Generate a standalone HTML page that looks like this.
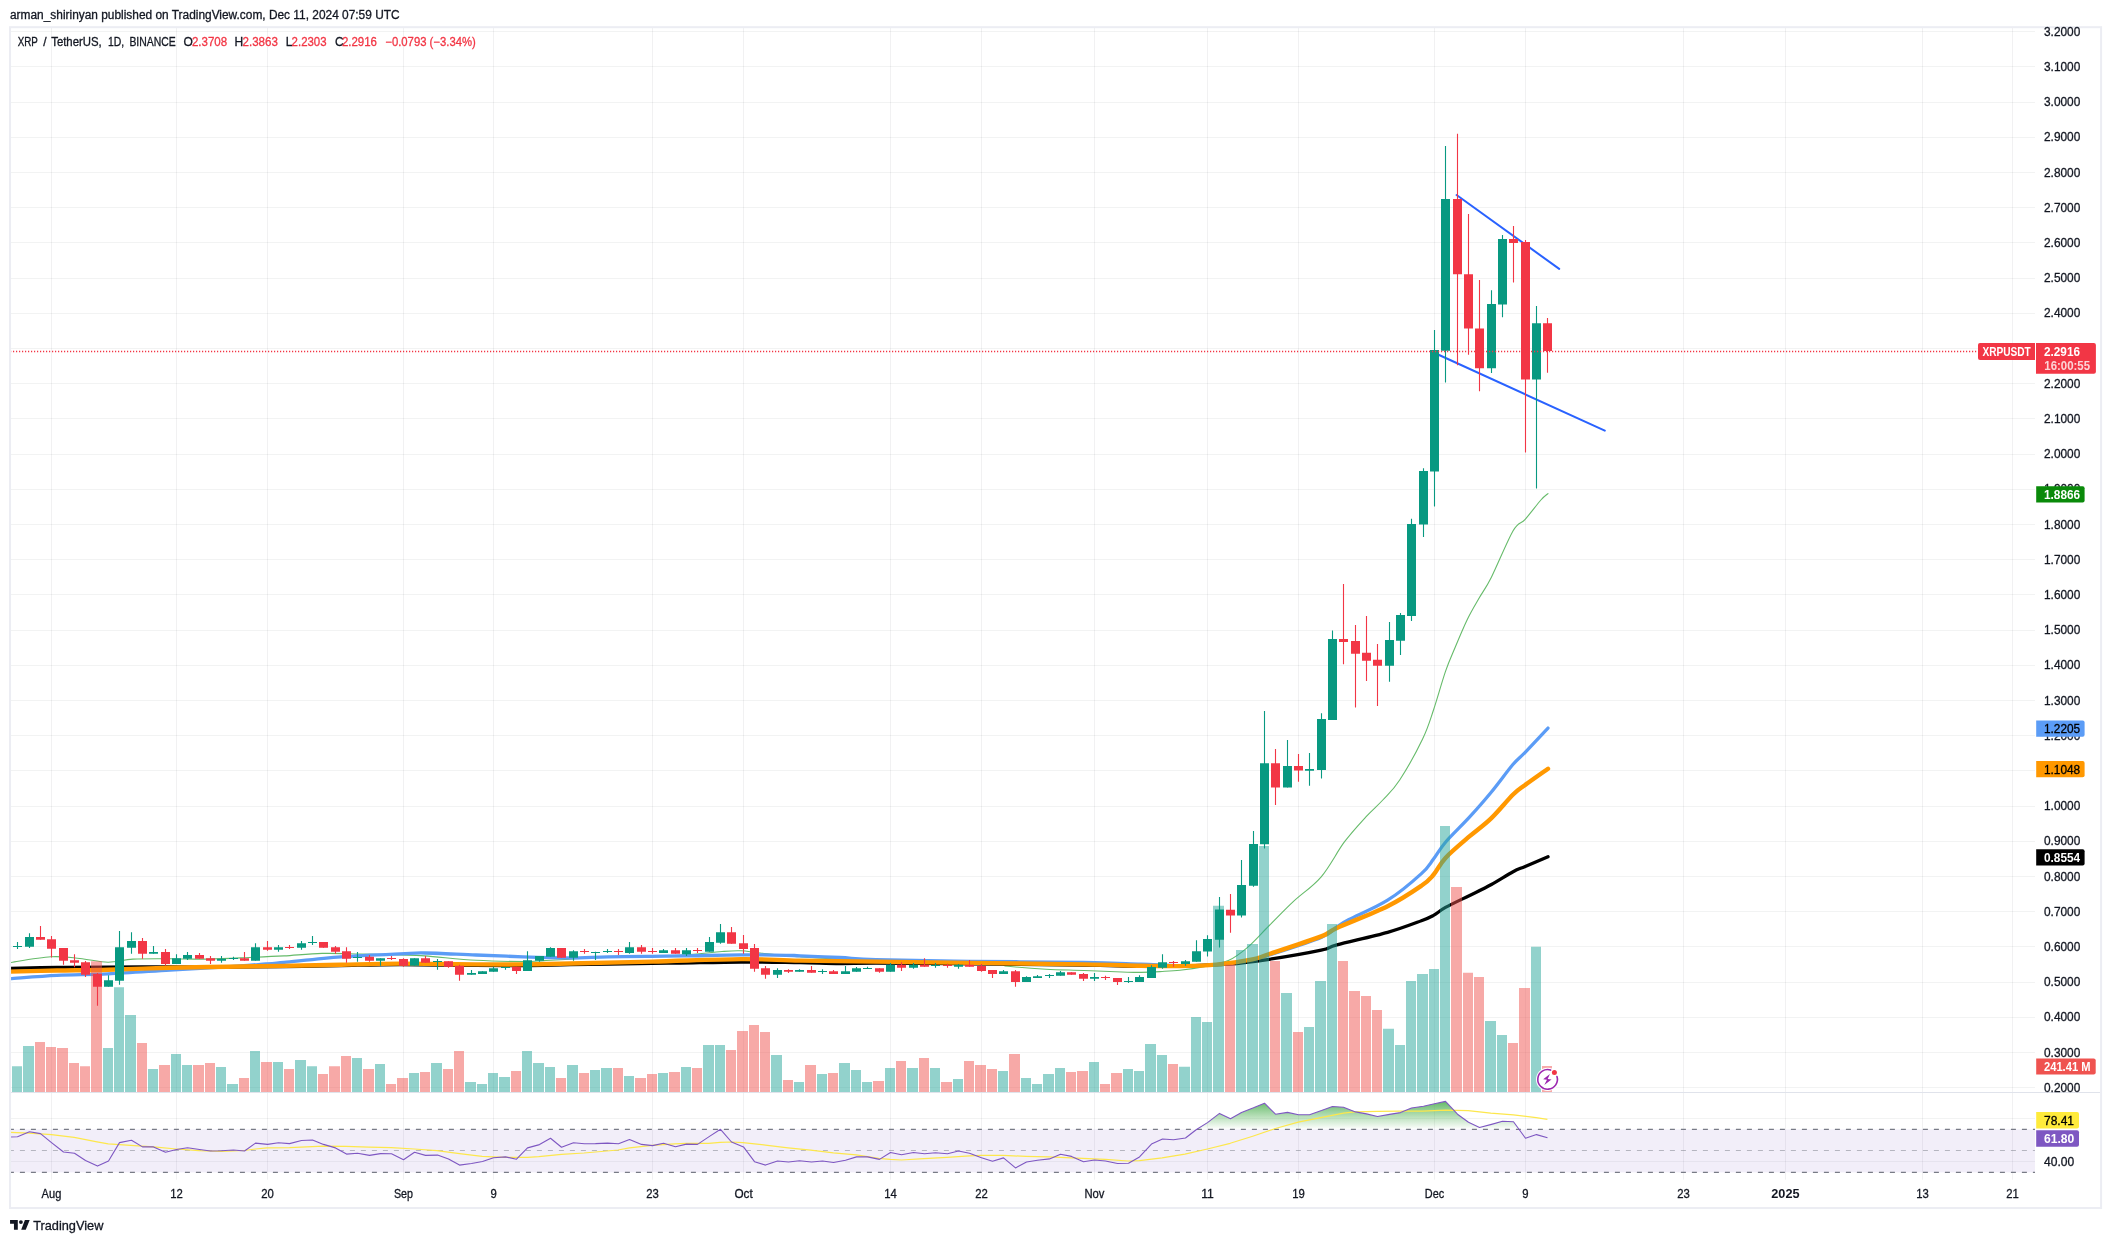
<!DOCTYPE html>
<html><head><meta charset="utf-8"><title>XRP / TetherUS chart</title>
<style>html,body{margin:0;padding:0;background:#fff;width:2111px;height:1243px;overflow:hidden}svg{display:block}text{white-space:pre}</style></head>
<body>
<svg width="2111" height="1243" viewBox="0 0 2111 1243" style="position:absolute;left:0;top:0">
<rect x="0" y="0" width="2111" height="1243" fill="#fff"/>
<path d="M10.0 1087.5H2035.0M10.0 1052.5H2035.0M10.0 1017.5H2035.0M10.0 982.5H2035.0M10.0 946.5H2035.0M10.0 911.5H2035.0M10.0 876.5H2035.0M10.0 841.5H2035.0M10.0 806.5H2035.0M10.0 770.5H2035.0M10.0 735.5H2035.0M10.0 700.5H2035.0M10.0 665.5H2035.0M10.0 630.5H2035.0M10.0 594.5H2035.0M10.0 559.5H2035.0M10.0 524.5H2035.0M10.0 489.5H2035.0M10.0 454.5H2035.0M10.0 418.5H2035.0M10.0 383.5H2035.0M10.0 348.5H2035.0M10.0 313.5H2035.0M10.0 278.5H2035.0M10.0 242.5H2035.0M10.0 207.5H2035.0M10.0 172.5H2035.0M10.0 137.5H2035.0M10.0 102.5H2035.0M10.0 66.5H2035.0M10.0 31.5H2035.0M10.0 1118.5H2035.0M10.0 1161.5H2035.0" stroke="#2A2E39" stroke-opacity="0.06" stroke-width="1" fill="none"/>
<path d="M51.5 27.5V1179.7M176.5 27.5V1179.7M267.5 27.5V1179.7M403.5 27.5V1179.7M493.5 27.5V1179.7M652.5 27.5V1179.7M743.5 27.5V1179.7M890.5 27.5V1179.7M981.5 27.5V1179.7M1094.5 27.5V1179.7M1207.5 27.5V1179.7M1298.5 27.5V1179.7M1434.5 27.5V1179.7M1525.5 27.5V1179.7M1683.5 27.5V1179.7M1785.5 27.5V1179.7M1922.5 27.5V1179.7M2012.5 27.5V1179.7" stroke="#2A2E39" stroke-opacity="0.065" stroke-width="1" fill="none"/>
<rect x="10.0" y="1129.4" width="2025.0" height="43.0" fill="#7E57C2" fill-opacity="0.1"/>
<g fill="none" stroke-linejoin="round" stroke-linecap="round" clip-path="url(#plotclip)">
<path d="M10.0 962.5C16.8 961.5 39.3 957.5 51.0 956.8C62.7 956.1 70.5 957.6 80.0 958.5C89.5 959.4 99.2 962.1 108.0 962.2C116.8 962.3 122.7 959.7 133.0 959.1C143.3 958.5 157.5 958.7 170.0 958.7C182.5 958.7 193.8 959.4 208.0 959.1C222.2 958.9 242.3 957.7 255.0 957.2C267.7 956.7 272.8 956.5 284.0 955.9C295.2 955.3 309.3 953.7 322.0 953.4C334.7 953.1 347.0 953.7 360.0 954.0C373.0 954.3 389.2 954.7 400.0 955.0C410.8 955.3 412.3 955.0 425.0 955.9C437.7 956.8 459.7 959.3 476.0 960.3C492.3 961.2 511.7 961.5 523.0 961.6C534.3 961.7 536.2 961.0 544.0 960.6C551.8 960.2 559.3 959.9 570.0 959.3C580.7 958.7 594.3 957.4 608.0 956.8C621.7 956.2 639.3 956.2 652.0 955.9C664.7 955.6 672.3 955.7 684.0 955.0C695.7 954.3 712.5 952.2 722.0 951.5C731.5 950.8 734.7 950.5 741.0 950.8C747.3 951.0 750.2 952.0 760.0 953.0C769.8 954.0 780.7 955.5 800.0 956.8C819.3 958.1 844.3 959.8 876.0 961.0C907.7 962.2 968.0 963.1 990.0 964.0C1012.0 964.9 998.7 965.4 1008.0 966.3C1017.3 967.2 1033.3 968.5 1046.0 969.2C1058.7 969.9 1071.3 970.0 1084.0 970.5C1096.7 971.0 1112.5 971.7 1122.0 972.0C1131.5 972.3 1134.7 972.5 1141.0 972.4C1147.3 972.3 1153.5 972.0 1160.0 971.6C1166.5 971.2 1172.7 971.0 1180.0 970.2C1187.3 969.4 1196.0 968.2 1204.1 966.6C1212.1 965.0 1221.0 963.7 1228.3 960.5C1235.5 957.3 1240.8 953.1 1247.6 947.3C1254.4 941.5 1261.6 933.1 1269.3 925.5C1277.0 917.9 1284.8 909.5 1293.5 901.4C1302.2 893.3 1312.8 886.7 1321.2 876.8C1329.7 866.9 1336.8 852.2 1344.2 842.2C1351.7 832.2 1359.5 823.9 1365.9 816.9C1372.3 809.9 1377.2 806.1 1382.8 800.0C1388.4 793.9 1393.1 790.2 1399.7 780.0C1406.3 769.8 1417.0 750.7 1422.6 739.0C1428.2 727.3 1429.7 721.3 1433.5 710.0C1437.3 698.7 1441.9 681.9 1445.5 671.4C1449.1 660.9 1451.6 655.9 1455.2 647.3C1458.8 638.6 1463.3 627.8 1467.3 619.5C1471.3 611.2 1475.3 604.8 1479.3 597.8C1483.3 590.8 1485.8 588.4 1491.4 577.2C1497.0 566.0 1507.5 540.4 1513.1 530.7C1518.7 521.1 1520.6 524.4 1525.2 519.3C1529.8 514.2 1537.1 504.3 1540.9 500.0C1544.7 495.7 1546.8 494.7 1548.0 493.6" stroke="#66BB6A" stroke-width="1.1"/>
<path d="M10.0 978.6C17.8 978.1 40.7 976.2 57.0 975.4C73.3 974.6 89.2 974.8 108.0 973.9C126.8 973.0 150.2 971.3 170.0 970.1C189.8 968.9 211.0 967.8 227.0 966.8C243.0 965.8 256.5 964.7 266.0 964.0C275.5 963.3 271.5 963.6 284.0 962.4C296.5 961.2 321.7 958.2 341.0 956.8C360.3 955.4 386.0 954.4 400.0 953.8C414.0 953.2 412.3 952.8 425.0 953.0C437.7 953.2 459.7 954.4 476.0 955.0C492.3 955.6 507.3 956.3 523.0 956.8C538.7 957.3 555.8 957.8 570.0 957.8C584.2 957.8 594.3 957.0 608.0 956.8C621.7 956.5 639.3 956.4 652.0 956.3C664.7 956.1 669.2 956.1 684.0 955.9C698.8 955.7 724.0 955.0 741.0 954.9C758.0 954.8 776.2 955.1 786.0 955.3C795.8 955.4 791.0 955.4 800.0 955.8C809.0 956.2 827.3 956.9 840.0 957.5C852.7 958.1 854.3 959.0 876.0 959.6C897.7 960.2 935.3 960.8 970.0 961.3C1004.7 961.8 1055.5 961.9 1084.0 962.4C1112.5 962.9 1125.0 963.7 1141.0 964.2C1157.0 964.7 1167.5 965.5 1180.0 965.6C1192.5 965.7 1204.1 965.6 1216.2 964.6C1228.3 963.6 1243.6 961.4 1252.4 959.8C1261.2 958.2 1257.8 958.7 1269.3 955.0C1280.8 951.3 1309.9 942.1 1321.2 937.4C1332.5 932.7 1332.3 930.0 1336.9 927.0C1341.5 924.0 1340.5 924.0 1349.0 919.5C1357.5 915.0 1375.5 907.9 1387.6 900.2C1399.7 892.6 1413.8 880.5 1421.4 873.6C1429.1 866.8 1429.5 864.3 1433.5 859.1C1437.5 853.9 1439.5 849.2 1445.5 842.2C1451.5 835.2 1462.0 825.3 1469.7 816.9C1477.4 808.5 1484.2 800.8 1491.4 792.0C1498.6 783.2 1507.5 770.9 1513.1 764.3C1518.7 757.7 1519.4 758.3 1525.2 752.3C1531.0 746.3 1544.2 732.1 1548.0 728.1" stroke="#5B9CF6" stroke-width="3.3"/>
<path d="M10.0 968.4C17.8 968.2 40.7 967.6 57.0 967.4C73.3 967.2 89.2 967.3 108.0 967.2C126.8 967.1 150.2 966.9 170.0 966.9C189.8 966.9 208.0 967.2 227.0 967.2C246.0 967.2 265.0 967.0 284.0 966.7C303.0 966.4 321.7 966.0 341.0 965.6C360.3 965.2 377.5 964.5 400.0 964.5C422.5 964.5 455.5 965.2 476.0 965.4C496.5 965.6 507.3 965.6 523.0 965.5C538.7 965.4 548.5 965.1 570.0 964.7C591.5 964.4 633.7 963.7 652.0 963.4C670.3 963.1 665.2 963.2 680.0 963.0C694.8 962.8 721.0 962.1 741.0 962.0C761.0 961.9 783.5 962.4 800.0 962.6C816.5 962.9 827.3 963.4 840.0 963.5C852.7 963.6 854.3 963.2 876.0 963.2C897.7 963.2 935.3 963.5 970.0 963.8C1004.7 964.1 1055.5 964.8 1084.0 965.2C1112.5 965.6 1125.0 966.3 1141.0 966.4C1157.0 966.5 1165.5 966.4 1180.0 966.0C1194.5 965.6 1213.4 965.3 1228.3 964.2C1243.2 963.1 1253.8 961.6 1269.3 959.3C1284.8 957.0 1309.9 952.6 1321.2 950.2C1332.5 947.8 1325.8 947.8 1336.9 944.8C1348.0 941.8 1373.5 936.3 1387.6 932.3C1401.7 928.3 1413.8 923.5 1421.4 920.7C1429.1 917.9 1429.5 917.6 1433.5 915.4C1437.5 913.2 1439.5 910.7 1445.5 907.4C1451.5 904.1 1462.0 899.2 1469.7 895.4C1477.4 891.6 1484.2 888.5 1491.4 884.5C1498.6 880.5 1507.5 874.7 1513.1 871.7C1518.7 868.7 1519.4 868.9 1525.2 866.4C1531.0 863.9 1544.2 858.3 1548.0 856.7" stroke="#000" stroke-width="3.3"/>
<path d="M10.0 971.6C17.8 971.4 40.7 970.8 57.0 970.5C73.3 970.2 89.2 970.2 108.0 969.7C126.8 969.2 150.2 968.3 170.0 967.8C189.8 967.3 208.0 967.0 227.0 966.7C246.0 966.4 265.0 966.2 284.0 965.9C303.0 965.6 321.7 965.1 341.0 964.7C360.3 964.3 377.5 963.7 400.0 963.6C422.5 963.5 455.5 964.3 476.0 964.4C496.5 964.5 507.3 964.5 523.0 964.4C538.7 964.2 548.5 964.0 570.0 963.5C591.5 963.0 623.5 962.3 652.0 961.6C680.5 960.9 716.3 959.3 741.0 959.1C765.7 958.9 777.5 960.2 800.0 960.6C822.5 961.0 847.7 961.2 876.0 961.6C904.3 962.0 935.3 962.4 970.0 962.9C1004.7 963.4 1055.5 963.9 1084.0 964.4C1112.5 964.9 1125.0 965.5 1141.0 965.8C1157.0 966.1 1167.5 966.3 1180.0 966.1C1192.5 965.9 1204.1 965.7 1216.2 964.6C1228.3 963.5 1243.6 961.1 1252.4 959.3C1261.2 957.5 1257.8 957.8 1269.3 954.0C1280.8 950.2 1309.9 940.8 1321.2 936.4C1332.5 932.0 1325.8 932.9 1336.9 927.9C1348.0 922.9 1373.5 913.2 1387.6 906.2C1401.7 899.2 1413.8 890.9 1421.4 885.7C1429.1 880.5 1429.5 879.4 1433.5 874.8C1437.5 870.2 1439.5 864.3 1445.5 857.9C1451.5 851.5 1462.0 842.8 1469.7 836.2C1477.4 829.6 1484.2 825.1 1491.4 818.1C1498.6 811.1 1507.5 800.0 1513.1 794.5C1518.7 789.0 1519.4 789.2 1525.2 784.9C1531.0 780.6 1544.2 771.4 1548.0 768.7" stroke="#FF9800" stroke-width="4.4"/>
</g>
<path d="M12 1092.3V1066.2H22V1092.3ZM23 1092.3V1046.1H34V1092.3ZM103 1092.3V1048.0H113V1092.3ZM114 1092.3V987.2H124V1092.3ZM125 1092.3V1015.0H136V1092.3ZM148 1092.3V1069.0H158V1092.3ZM171 1092.3V1054.1H181V1092.3ZM182 1092.3V1065.0H192V1092.3ZM216 1092.3V1067.1H226V1092.3ZM227 1092.3V1084.0H238V1092.3ZM250 1092.3V1051.0H260V1092.3ZM273 1092.3V1062.0H283V1092.3ZM295 1092.3V1060.1H306V1092.3ZM307 1092.3V1066.2H317V1092.3ZM352 1092.3V1058.0H362V1092.3ZM375 1092.3V1064.1H385V1092.3ZM409 1092.3V1073.0H419V1092.3ZM431 1092.3V1063.1H442V1092.3ZM465 1092.3V1082.1H476V1092.3ZM477 1092.3V1084.0H487V1092.3ZM488 1092.3V1073.0H498V1092.3ZM499 1092.3V1077.0H510V1092.3ZM522 1092.3V1051.0H532V1092.3ZM533 1092.3V1063.1H544V1092.3ZM545 1092.3V1067.1H555V1092.3ZM567 1092.3V1065.0H578V1092.3ZM590 1092.3V1070.0H600V1092.3ZM601 1092.3V1068.1H612V1092.3ZM624 1092.3V1076.0H634V1092.3ZM658 1092.3V1073.0H668V1092.3ZM681 1092.3V1067.1H691V1092.3ZM703 1092.3V1045.1H714V1092.3ZM715 1092.3V1045.1H725V1092.3ZM771 1092.3V1055.0H782V1092.3ZM794 1092.3V1082.1H804V1092.3ZM817 1092.3V1073.9H827V1092.3ZM839 1092.3V1063.1H850V1092.3ZM851 1092.3V1070.0H861V1092.3ZM862 1092.3V1082.1H872V1092.3ZM885 1092.3V1068.1H895V1092.3ZM907 1092.3V1068.1H918V1092.3ZM930 1092.3V1068.1H940V1092.3ZM953 1092.3V1079.1H963V1092.3ZM998 1092.3V1071.1H1008V1092.3ZM1021 1092.3V1078.1H1031V1092.3ZM1032 1092.3V1084.0H1042V1092.3ZM1043 1092.3V1073.9H1054V1092.3ZM1055 1092.3V1068.1H1065V1092.3ZM1089 1092.3V1062.0H1099V1092.3ZM1123 1092.3V1069.0H1133V1092.3ZM1134 1092.3V1071.1H1144V1092.3ZM1145 1092.3V1044.0H1156V1092.3ZM1157 1092.3V1055.0H1167V1092.3ZM1179 1092.3V1066.7H1190V1092.3ZM1191 1092.3V1017.0H1201V1092.3ZM1202 1092.3V1022.1H1212V1092.3ZM1213 1092.3V905.7H1224V1092.3ZM1236 1092.3V949.9H1246V1092.3ZM1247 1092.3V944.1H1258V1092.3ZM1259 1092.3V845.9H1269V1092.3ZM1281 1092.3V992.9H1292V1092.3ZM1304 1092.3V1026.9H1314V1092.3ZM1315 1092.3V981.1H1326V1092.3ZM1327 1092.3V924.1H1337V1092.3ZM1383 1092.3V1028.8H1394V1092.3ZM1395 1092.3V1045.0H1405V1092.3ZM1406 1092.3V981.1H1416V1092.3ZM1417 1092.3V974.0H1428V1092.3ZM1429 1092.3V969.0H1439V1092.3ZM1440 1092.3V826.1H1450V1092.3ZM1485 1092.3V1020.9H1496V1092.3ZM1497 1092.3V1034.9H1507V1092.3ZM1531 1092.3V946.8H1541V1092.3ZM10.0 1092.3V1072H11V1092.3Z" fill="#26A69A" fill-opacity="0.5"/>
<path d="M35 1092.3V1042.1H45V1092.3ZM46 1092.3V1047.0H56V1092.3ZM57 1092.3V1048.0H68V1092.3ZM69 1092.3V1063.1H79V1092.3ZM80 1092.3V1066.2H90V1092.3ZM91 1092.3V961.2H102V1092.3ZM137 1092.3V1043.1H147V1092.3ZM159 1092.3V1065.0H170V1092.3ZM193 1092.3V1065.0H204V1092.3ZM205 1092.3V1063.1H215V1092.3ZM239 1092.3V1078.1H249V1092.3ZM261 1092.3V1062.0H272V1092.3ZM284 1092.3V1069.0H294V1092.3ZM318 1092.3V1073.9H328V1092.3ZM329 1092.3V1066.2H340V1092.3ZM341 1092.3V1056.1H351V1092.3ZM363 1092.3V1069.0H374V1092.3ZM386 1092.3V1084.0H396V1092.3ZM397 1092.3V1078.1H408V1092.3ZM420 1092.3V1072.1H430V1092.3ZM443 1092.3V1069.0H453V1092.3ZM454 1092.3V1051.0H464V1092.3ZM511 1092.3V1071.1H521V1092.3ZM556 1092.3V1078.1H566V1092.3ZM579 1092.3V1073.0H589V1092.3ZM613 1092.3V1068.1H623V1092.3ZM635 1092.3V1078.1H646V1092.3ZM647 1092.3V1073.9H657V1092.3ZM669 1092.3V1072.1H680V1092.3ZM692 1092.3V1068.1H702V1092.3ZM726 1092.3V1050.1H736V1092.3ZM737 1092.3V1031.1H748V1092.3ZM749 1092.3V1025.1H759V1092.3ZM760 1092.3V1032.1H770V1092.3ZM783 1092.3V1080.0H793V1092.3ZM805 1092.3V1065.0H816V1092.3ZM828 1092.3V1073.0H838V1092.3ZM873 1092.3V1081.0H884V1092.3ZM896 1092.3V1061.1H906V1092.3ZM919 1092.3V1058.0H929V1092.3ZM941 1092.3V1082.1H952V1092.3ZM964 1092.3V1061.1H974V1092.3ZM975 1092.3V1065.0H986V1092.3ZM987 1092.3V1069.0H997V1092.3ZM1009 1092.3V1054.1H1020V1092.3ZM1066 1092.3V1072.1H1076V1092.3ZM1077 1092.3V1071.1H1088V1092.3ZM1100 1092.3V1084.0H1110V1092.3ZM1111 1092.3V1073.0H1122V1092.3ZM1168 1092.3V1064.1H1178V1092.3ZM1225 1092.3V964.6H1235V1092.3ZM1270 1092.3V961.0H1280V1092.3ZM1293 1092.3V1032.0H1303V1092.3ZM1338 1092.3V961.0H1348V1092.3ZM1349 1092.3V990.9H1360V1092.3ZM1361 1092.3V996.0H1371V1092.3ZM1372 1092.3V1010.0H1382V1092.3ZM1451 1092.3V886.9H1462V1092.3ZM1463 1092.3V972.8H1473V1092.3ZM1474 1092.3V976.9H1484V1092.3ZM1508 1092.3V1043.1H1518V1092.3ZM1519 1092.3V988.1H1530V1092.3ZM1542 1092.3V1066.1H1552V1092.3Z" fill="#EF5350" fill-opacity="0.5"/>
<path d="M1456.6 195L1559.2 268.9M1438 354.5L1604.8 430.7" stroke="#2962FF" stroke-width="2" stroke-linecap="round" fill="none"/>
<path d="M17.5 942.1V948.9M29.5 933.2V947.9M108.5 975.2V986.8M119.5 931.1V984.7M131.5 932.2V953.8M153.5 946.0V953.8M176.5 954.2V963.9M187.5 952.1V959.9M221.5 956.1V962.7M233.5 956.8V959.9M255.5 943.2V960.8M278.5 945.1V951.7M301.5 941.1V949.8M312.5 936.0V945.1M357.5 952.1V961.8M380.5 958.2V965.8M414.5 958.2V965.8M437.5 959.1V969.7M471.5 970.1V974.8M482.5 971.2V973.9M493.5 966.7V971.8M505.5 966.9V969.7M527.5 951.2V970.9M539.5 956.1V961.8M550.5 947.2V956.8M573.5 950.2V960.8M595.5 951.7V959.9M607.5 949.1V952.9M629.5 942.1V953.8M663.5 949.1V952.9M686.5 948.1V956.1M709.5 937.1V951.7M720.5 924.1V943.8M777.5 968.2V977.9M799.5 969.2V971.8M822.5 969.2V973.9M845.5 966.1V973.9M856.5 967.1V971.8M867.5 966.7V968.8M890.5 963.1V971.8M913.5 963.1V968.8M935.5 963.1V967.8M958.5 964.0V968.8M1003.5 970.1V973.9M1026.5 976.2V981.9M1037.5 975.0V977.9M1049.5 974.1V977.9M1060.5 971.1V975.8M1094.5 973.1V980.9M1128.5 977.1V983.0M1139.5 975.2V981.9M1151.5 965.2V977.9M1162.5 954.2V968.8M1185.5 960.1V965.8M1196.5 940.2V961.8M1207.5 935.2V956.4M1219.5 897.0V947.5M1241.5 860.0V917.4M1253.5 831.0V886.7M1264.5 710.9V848.4M1287.5 740.0V787.6M1309.5 752.9V785.8M1321.5 713.2V778.6M1332.5 630.4V719.9M1389.5 622.1V681.8M1400.5 613.0V655.0M1411.5 518.8V620.9M1423.5 468.2V536.9M1434.5 330.0V506.6M1445.5 146.0V382.4M1491.5 290.2V373.0M1502.5 235.0V317.2M1536.5 306.0V488.5" stroke="#089981" stroke-width="1.1" fill="none"/>
<path d="M40.5 926.1V939.8M51.5 936.0V957.4M63.5 948.1V964.8M74.5 954.2V967.3M85.5 961.0V976.9M97.5 973.0V1005.7M142.5 937.9V958.7M165.5 949.1V965.8M199.5 953.1V958.7M210.5 956.1V963.9M244.5 952.1V960.8M267.5 941.1V950.8M289.5 945.1V948.9M323.5 942.1V947.7M335.5 946.0V953.8M346.5 947.2V962.7M369.5 955.1V961.8M391.5 956.1V959.9M403.5 958.2V966.7M425.5 956.1V962.7M448.5 961.2V967.8M459.5 964.8V980.7M516.5 966.7V973.9M561.5 948.1V957.8M584.5 949.1V953.8M618.5 949.1V955.0M641.5 945.1V953.8M652.5 948.1V953.8M675.5 948.1V953.8M697.5 948.1V953.1M731.5 927.1V943.8M743.5 935.1V953.8M754.5 944.1V971.8M765.5 966.1V978.8M788.5 969.2V973.0M811.5 966.1V972.8M833.5 970.1V973.9M879.5 968.2V972.8M901.5 962.2V970.9M924.5 958.2V966.7M947.5 963.7V967.8M969.5 960.1V966.7M981.5 964.0V971.8M992.5 970.1V977.9M1015.5 970.1V986.8M1071.5 972.2V974.8M1083.5 973.1V980.9M1105.5 975.8V980.0M1117.5 978.1V984.9M1173.5 961.0V966.7M1230.5 893.9V932.8M1275.5 749.0V805.0M1298.5 754.0V781.7M1343.5 584.0V664.2M1355.5 625.0V707.6M1366.5 616.1V681.0M1377.5 644.1V705.9M1457.5 133.8V365.2M1468.5 214.0V354.8M1479.5 280.0V391.2M1513.5 226.1V282.4M1525.5 240.0V452.4M1547.5 318.0V372.7" stroke="#F23645" stroke-width="1.1" fill="none"/>
<path d="M13.0 946.0H22.0V947.0H13.0ZM25.0 937.1H34.0V946.8H25.0ZM104.0 980.2H113.0V986.8H104.0ZM115.0 947.2H124.0V980.7H115.0ZM127.0 941.1H136.0V947.7H127.0ZM149.0 952.1H158.0V953.8H149.0ZM172.0 958.2H181.0V963.9H172.0ZM183.0 955.1H192.0V958.7H183.0ZM217.0 958.7H226.0V960.8H217.0ZM229.0 958.0H238.0V959.0H229.0ZM251.0 947.2H260.0V960.8H251.0ZM274.0 947.2H283.0V949.8H274.0ZM297.0 943.2H306.0V947.7H297.0ZM308.0 942.0H317.0V943.0H308.0ZM353.0 957.0H362.0V958.0H353.0ZM376.0 958.2H385.0V960.8H376.0ZM410.0 958.2H419.0V965.8H410.0ZM433.0 961.0H442.0V962.0H433.0ZM467.0 973.1H476.0V974.8H467.0ZM478.0 971.2H487.0V973.9H478.0ZM489.0 968.2H498.0V971.8H489.0ZM501.0 967.0H510.0V968.0H501.0ZM523.0 960.3H532.0V970.9H523.0ZM535.0 956.1H544.0V960.8H535.0ZM546.0 948.1H555.0V956.8H546.0ZM569.0 951.2H578.0V957.8H569.0ZM591.0 952.0H600.0V953.0H591.0ZM603.0 951.0H612.0V952.0H603.0ZM625.0 947.2H634.0V952.9H625.0ZM659.0 950.2H668.0V952.9H659.0ZM682.0 950.2H691.0V954.2H682.0ZM705.0 942.1H714.0V951.7H705.0ZM716.0 932.2H725.0V942.8H716.0ZM773.0 970.1H782.0V974.8H773.0ZM795.0 970.1H804.0V971.8H795.0ZM818.0 971.0H827.0V972.0H818.0ZM841.0 971.2H850.0V973.9H841.0ZM852.0 968.2H861.0V971.8H852.0ZM863.0 968.0H872.0V969.0H863.0ZM886.0 964.8H895.0V971.8H886.0ZM909.0 964.8H918.0V967.8H909.0ZM931.0 965.0H940.0V966.0H931.0ZM954.0 964.8H963.0V966.7H954.0ZM999.0 971.2H1008.0V973.9H999.0ZM1022.0 977.1H1031.0V981.9H1022.0ZM1033.0 976.2H1042.0V977.9H1033.0ZM1045.0 975.0H1054.0V976.0H1045.0ZM1056.0 972.2H1065.0V975.8H1056.0ZM1090.0 977.1H1099.0V978.8H1090.0ZM1124.0 981.0H1133.0V982.0H1124.0ZM1135.0 977.1H1144.0V981.9H1135.0ZM1147.0 967.1H1156.0V977.9H1147.0ZM1158.0 962.2H1167.0V967.8H1158.0ZM1181.0 961.2H1190.0V963.9H1181.0ZM1192.0 951.2H1201.0V961.8H1192.0ZM1203.0 939.0H1212.0V951.6H1203.0ZM1215.0 909.6H1224.0V939.8H1215.0ZM1237.0 885.0H1246.0V915.6H1237.0ZM1249.0 844.0H1258.0V885.7H1249.0ZM1260.0 763.2H1269.0V844.3H1260.0ZM1283.0 765.9H1292.0V787.6H1283.0ZM1305.0 769.0H1314.0V770.7H1305.0ZM1317.0 718.9H1326.0V770.0H1317.0ZM1328.0 639.0H1337.0V719.9H1328.0ZM1385.0 640.0H1394.0V665.8H1385.0ZM1396.0 615.1H1405.0V640.7H1396.0ZM1407.0 523.9H1416.0V615.9H1407.0ZM1419.0 471.0H1428.0V524.6H1419.0ZM1430.0 350.0H1439.0V471.6H1430.0ZM1441.0 199.0H1450.0V350.7H1441.0ZM1487.0 304.0H1496.0V368.2H1487.0ZM1498.0 238.9H1507.0V304.4H1498.0ZM1532.0 323.3H1541.0V379.4H1532.0Z" fill="#089981"/>
<path d="M36.0 937.1H45.0V939.8H36.0ZM47.0 939.2H56.0V948.7H47.0ZM59.0 948.1H68.0V960.8H59.0ZM70.0 960.3H79.0V962.7H70.0ZM81.0 962.2H90.0V974.8H81.0ZM93.0 973.9H102.0V986.8H93.0ZM138.0 941.1H147.0V953.8H138.0ZM161.0 952.1H170.0V963.9H161.0ZM195.0 955.1H204.0V958.7H195.0ZM206.0 958.2H215.0V960.8H206.0ZM240.0 958.2H249.0V960.8H240.0ZM263.0 947.2H272.0V949.8H263.0ZM285.0 947.0H294.0V948.0H285.0ZM319.0 942.1H328.0V947.7H319.0ZM331.0 947.2H340.0V951.7H331.0ZM342.0 951.2H351.0V958.7H342.0ZM365.0 956.8H374.0V960.8H365.0ZM387.0 958.0H396.0V959.0H387.0ZM399.0 959.1H408.0V965.8H399.0ZM421.0 958.2H430.0V962.7H421.0ZM444.0 961.2H453.0V966.7H444.0ZM455.0 965.8H464.0V974.8H455.0ZM512.0 966.7H521.0V970.9H512.0ZM557.0 948.1H566.0V957.8H557.0ZM580.0 951.0H589.0V952.0H580.0ZM614.0 951.0H623.0V952.0H614.0ZM637.0 947.2H646.0V951.7H637.0ZM648.0 951.0H657.0V952.0H648.0ZM671.0 950.2H680.0V953.8H671.0ZM693.0 950.0H702.0V951.0H693.0ZM727.0 932.2H736.0V943.8H727.0ZM739.0 943.2H748.0V948.9H739.0ZM750.0 948.1H759.0V968.8H750.0ZM761.0 968.2H770.0V974.8H761.0ZM784.0 970.1H793.0V971.8H784.0ZM807.0 970.1H816.0V972.8H807.0ZM829.0 971.2H838.0V973.9H829.0ZM875.0 968.2H884.0V971.8H875.0ZM897.0 964.8H906.0V967.8H897.0ZM920.0 964.8H929.0V966.7H920.0ZM943.0 965.0H952.0V966.0H943.0ZM965.0 964.8H974.0V966.7H965.0ZM977.0 966.1H986.0V970.9H977.0ZM988.0 970.1H997.0V973.9H988.0ZM1011.0 971.2H1020.0V981.9H1011.0ZM1067.0 972.2H1076.0V974.8H1067.0ZM1079.0 974.1H1088.0V978.8H1079.0ZM1101.0 977.0H1110.0V978.0H1101.0ZM1113.0 978.1H1122.0V981.9H1113.0ZM1169.0 962.0H1178.0V963.0H1169.0ZM1226.0 909.8H1235.0V915.6H1226.0ZM1271.0 763.2H1280.0V787.6H1271.0ZM1294.0 765.9H1303.0V770.6H1294.0ZM1339.0 639.0H1348.0V641.9H1339.0ZM1351.0 641.0H1360.0V653.8H1351.0ZM1362.0 652.8H1371.0V660.8H1362.0ZM1373.0 659.8H1382.0V665.8H1373.0ZM1453.0 199.0H1462.0V274.3H1453.0ZM1464.0 274.2H1473.0V328.4H1464.0ZM1475.0 328.4H1484.0V368.2H1475.0ZM1509.0 238.9H1518.0V242.9H1509.0ZM1521.0 242.1H1530.0V379.4H1521.0ZM1543.0 323.3H1552.0V351.1H1543.0Z" fill="#F23645"/>
<path d="M10 351.5H1978" stroke="#F23645" stroke-width="1.3" stroke-dasharray="1.2 1.8" fill="none"/>
<defs><filter id="nf" x="0" y="0" width="2111" height="1243" filterUnits="userSpaceOnUse" color-interpolation-filters="sRGB"><feOffset dx="0" dy="0"/></filter><linearGradient id="ob" x1="0" y1="1097" x2="0" y2="1129.3" gradientUnits="userSpaceOnUse"><stop offset="0" stop-color="#4CAF50" stop-opacity="1"/><stop offset="1" stop-color="#4CAF50" stop-opacity="0"/></linearGradient>
<clipPath id="obclip"><rect x="10.0" y="27.5" width="2025.0" height="1101.9"/></clipPath>
<clipPath id="plotclip"><rect x="10.0" y="27.5" width="2025.0" height="1152.2"/></clipPath></defs>
<polygon points="10.0,1134.4 10.0,1137.0 17.5,1136.7 29.5,1131.8 40.5,1133.6 51.5,1142.6 63.5,1152.0 74.5,1153.3 85.5,1160.5 97.5,1166.1 108.5,1161.0 119.5,1142.6 131.5,1140.3 142.5,1146.9 153.5,1146.9 165.5,1152.3 176.5,1149.5 187.5,1147.7 199.5,1149.5 210.5,1151.0 221.5,1150.7 233.5,1150.0 244.5,1151.0 255.5,1143.1 267.5,1144.4 278.5,1142.8 289.5,1143.6 301.5,1140.5 312.5,1140.0 323.5,1144.4 335.5,1147.9 346.5,1154.1 357.5,1153.3 369.5,1155.4 380.5,1153.6 391.5,1153.8 403.5,1159.7 414.5,1152.3 425.5,1155.4 437.5,1155.1 448.5,1158.9 459.5,1165.1 471.5,1163.5 482.5,1161.5 493.5,1157.7 505.5,1156.9 516.5,1159.2 527.5,1147.9 539.5,1144.6 550.5,1138.2 561.5,1147.2 573.5,1142.8 584.5,1143.8 595.5,1143.6 607.5,1143.1 618.5,1143.8 629.5,1139.5 641.5,1144.4 652.5,1145.6 663.5,1143.3 675.5,1146.7 686.5,1144.1 697.5,1144.4 709.5,1136.4 720.5,1129.3 731.5,1142.0 743.5,1146.9 754.5,1161.7 765.5,1165.1 777.5,1161.0 788.5,1162.0 799.5,1160.7 811.5,1162.0 822.5,1161.0 833.5,1162.5 845.5,1160.2 856.5,1156.9 867.5,1156.9 879.5,1159.4 890.5,1152.5 901.5,1154.8 913.5,1152.5 924.5,1153.8 935.5,1152.8 947.5,1153.8 958.5,1151.0 969.5,1153.3 981.5,1157.7 992.5,1161.2 1003.5,1157.9 1015.5,1167.9 1026.5,1162.0 1037.5,1160.2 1049.5,1158.9 1060.5,1154.3 1071.5,1156.4 1083.5,1161.7 1094.5,1160.0 1105.5,1161.0 1117.5,1163.5 1128.5,1163.3 1139.5,1156.9 1151.5,1144.1 1162.5,1139.0 1173.5,1139.7 1185.5,1138.0 1196.5,1129.5 1207.5,1122.6 1219.5,1113.4 1230.5,1118.8 1241.5,1112.4 1253.5,1107.8 1264.5,1103.2 1275.5,1114.2 1287.5,1112.4 1298.5,1114.7 1309.5,1114.7 1321.5,1110.6 1332.5,1106.5 1343.5,1107.3 1355.5,1111.9 1366.5,1113.9 1377.5,1116.5 1389.5,1114.4 1400.5,1112.6 1411.5,1108.0 1423.5,1106.2 1434.5,1103.7 1445.5,1101.4 1457.5,1114.2 1468.5,1122.3 1479.5,1127.5 1491.5,1124.4 1502.5,1121.3 1513.5,1121.8 1525.5,1138.2 1536.5,1134.6 1547.5,1137.7 1547.5,1134.4" fill="url(#ob)" clip-path="url(#obclip)"/>
<path d="M10.0 1129.4H2035.0M10.0 1172.4H2035.0" stroke="#787B86" stroke-width="1.2" stroke-dasharray="5 6" stroke-dashoffset="1.1" fill="none"/>
<path d="M10.0 1150.5H2035.0" stroke="#787B86" stroke-opacity="0.5" stroke-width="1.2" stroke-dasharray="5 6" stroke-dashoffset="1.1" fill="none"/>
<polyline points="10.2,1132.3 28.9,1133.1 51.4,1134.6 74.2,1137.4 97.0,1141.8 108.2,1143.8 130.7,1145.4 153.5,1146.9 176.3,1149.0 198.8,1150.7 221.5,1151.3 244.1,1150.5 255.6,1149.0 266.8,1147.9 289.6,1147.7 312.1,1146.7 323.4,1146.1 346.1,1146.4 368.9,1147.2 391.4,1147.7 414.2,1149.0 436.9,1150.7 459.5,1153.6 482.2,1156.4 504.7,1157.4 527.5,1157.4 538.8,1156.6 561.5,1154.3 584.0,1153.0 606.8,1151.0 618.0,1150.0 629.5,1147.9 652.0,1145.4 674.8,1143.8 686.1,1143.3 708.8,1143.3 720.1,1142.3 731.4,1142.0 742.9,1142.6 765.4,1145.1 788.1,1147.9 810.7,1150.2 833.4,1152.8 856.2,1154.8 878.7,1158.4 890.0,1159.4 901.5,1160.0 924.0,1158.7 946.8,1157.4 969.5,1155.9 980.8,1155.4 1003.3,1155.4 1026.1,1156.4 1048.8,1156.9 1071.3,1157.9 1082.6,1158.4 1105.3,1159.4 1128.1,1161.0 1139.4,1160.7 1162.1,1157.9 1184.9,1154.1 1207.4,1149.0 1230.2,1143.3 1252.7,1136.2 1275.4,1128.5 1298.2,1122.1 1320.7,1117.7 1343.5,1113.1 1354.8,1111.9 1377.5,1111.3 1400.0,1111.1 1422.8,1111.1 1445.6,1110.1 1468.1,1110.6 1490.8,1113.1 1513.4,1114.9 1536.1,1117.7 1547.4,1119.3" stroke="#FDE74C" stroke-width="1.2" fill="none" stroke-linejoin="round"/>
<polyline points="10.0,1137.0 17.5,1136.7 29.5,1131.8 40.5,1133.6 51.5,1142.6 63.5,1152.0 74.5,1153.3 85.5,1160.5 97.5,1166.1 108.5,1161.0 119.5,1142.6 131.5,1140.3 142.5,1146.9 153.5,1146.9 165.5,1152.3 176.5,1149.5 187.5,1147.7 199.5,1149.5 210.5,1151.0 221.5,1150.7 233.5,1150.0 244.5,1151.0 255.5,1143.1 267.5,1144.4 278.5,1142.8 289.5,1143.6 301.5,1140.5 312.5,1140.0 323.5,1144.4 335.5,1147.9 346.5,1154.1 357.5,1153.3 369.5,1155.4 380.5,1153.6 391.5,1153.8 403.5,1159.7 414.5,1152.3 425.5,1155.4 437.5,1155.1 448.5,1158.9 459.5,1165.1 471.5,1163.5 482.5,1161.5 493.5,1157.7 505.5,1156.9 516.5,1159.2 527.5,1147.9 539.5,1144.6 550.5,1138.2 561.5,1147.2 573.5,1142.8 584.5,1143.8 595.5,1143.6 607.5,1143.1 618.5,1143.8 629.5,1139.5 641.5,1144.4 652.5,1145.6 663.5,1143.3 675.5,1146.7 686.5,1144.1 697.5,1144.4 709.5,1136.4 720.5,1129.3 731.5,1142.0 743.5,1146.9 754.5,1161.7 765.5,1165.1 777.5,1161.0 788.5,1162.0 799.5,1160.7 811.5,1162.0 822.5,1161.0 833.5,1162.5 845.5,1160.2 856.5,1156.9 867.5,1156.9 879.5,1159.4 890.5,1152.5 901.5,1154.8 913.5,1152.5 924.5,1153.8 935.5,1152.8 947.5,1153.8 958.5,1151.0 969.5,1153.3 981.5,1157.7 992.5,1161.2 1003.5,1157.9 1015.5,1167.9 1026.5,1162.0 1037.5,1160.2 1049.5,1158.9 1060.5,1154.3 1071.5,1156.4 1083.5,1161.7 1094.5,1160.0 1105.5,1161.0 1117.5,1163.5 1128.5,1163.3 1139.5,1156.9 1151.5,1144.1 1162.5,1139.0 1173.5,1139.7 1185.5,1138.0 1196.5,1129.5 1207.5,1122.6 1219.5,1113.4 1230.5,1118.8 1241.5,1112.4 1253.5,1107.8 1264.5,1103.2 1275.5,1114.2 1287.5,1112.4 1298.5,1114.7 1309.5,1114.7 1321.5,1110.6 1332.5,1106.5 1343.5,1107.3 1355.5,1111.9 1366.5,1113.9 1377.5,1116.5 1389.5,1114.4 1400.5,1112.6 1411.5,1108.0 1423.5,1106.2 1434.5,1103.7 1445.5,1101.4 1457.5,1114.2 1468.5,1122.3 1479.5,1127.5 1491.5,1124.4 1502.5,1121.3 1513.5,1121.8 1525.5,1138.2 1536.5,1134.6 1547.5,1137.7" stroke="#7E57C2" stroke-width="1.1" fill="none" stroke-linejoin="round"/>
<path d="M10.0 1092.5H2100" stroke="#E0E3EB" stroke-width="1" fill="none"/>
<rect x="10.05" y="27.2" width="2091.05" height="1180.85" stroke="#ECEDF3" stroke-width="2" fill="none"/>
<circle cx="1547.6" cy="1079.4" r="11.6" fill="#fff"/>
<path d="M1556.97 1076.53A9.8 9.8 0 1 1 1550.63 1070.08" stroke="#9C27B0" stroke-width="1.6" fill="none" stroke-linecap="round"/>
<circle cx="1554.4" cy="1072.5" r="2.5" fill="#F23645"/>
<polygon points="1549.92,1073.98 1543.16,1079.29 1546.98,1079.85 1544.29,1084.92 1551.53,1079.57 1547.67,1079.05" fill="#9C27B0"/>
<g filter="url(#nf)" font-family="Liberation Sans, sans-serif"><text x="10" y="18.8" font-size="12" fill="#131722" text-anchor="start" font-weight="normal" stroke="#131722" stroke-width="0.3" textLength="389.6" lengthAdjust="spacingAndGlyphs">arman_shirinyan published on TradingView.com, Dec 11, 2024 07:59 UTC</text><text x="17.7" y="45.9" font-size="12" fill="#131722" text-anchor="start" font-weight="normal" stroke="#131722" stroke-width="0.3" textLength="20.2" lengthAdjust="spacingAndGlyphs">XRP</text><text x="43.3" y="45.9" font-size="12" fill="#131722" text-anchor="start" font-weight="normal" stroke="#131722" stroke-width="0.3">/</text><text x="51.2" y="45.9" font-size="12" fill="#131722" text-anchor="start" font-weight="normal" stroke="#131722" stroke-width="0.3" textLength="50.6" lengthAdjust="spacingAndGlyphs">TetherUS,</text><text x="108.0" y="45.9" font-size="12" fill="#131722" text-anchor="start" font-weight="normal" stroke="#131722" stroke-width="0.3" textLength="16.2" lengthAdjust="spacingAndGlyphs">1D,</text><text x="129.4" y="45.9" font-size="12" fill="#131722" text-anchor="start" font-weight="normal" stroke="#131722" stroke-width="0.3" textLength="46.2" lengthAdjust="spacingAndGlyphs">BINANCE</text><text x="183.4" y="45.9" font-size="12" fill="#131722" text-anchor="start" font-weight="normal" stroke="#131722" stroke-width="0.3">O</text><text x="191.9" y="45.9" font-size="12" fill="#F23645" text-anchor="start" font-weight="normal" stroke="#F23645" stroke-width="0.3" textLength="35.2" lengthAdjust="spacingAndGlyphs">2.3708</text><text x="234.4" y="45.9" font-size="12" fill="#131722" text-anchor="start" font-weight="normal" stroke="#131722" stroke-width="0.3">H</text><text x="242.5" y="45.9" font-size="12" fill="#F23645" text-anchor="start" font-weight="normal" stroke="#F23645" stroke-width="0.3" textLength="35.4" lengthAdjust="spacingAndGlyphs">2.3863</text><text x="285.8" y="45.9" font-size="12" fill="#131722" text-anchor="start" font-weight="normal" stroke="#131722" stroke-width="0.3">L</text><text x="291.6" y="45.9" font-size="12" fill="#F23645" text-anchor="start" font-weight="normal" stroke="#F23645" stroke-width="0.3" textLength="35.0" lengthAdjust="spacingAndGlyphs">2.2303</text><text x="334.9" y="45.9" font-size="12" fill="#131722" text-anchor="start" font-weight="normal" stroke="#131722" stroke-width="0.3">C</text><text x="341.9" y="45.9" font-size="12" fill="#F23645" text-anchor="start" font-weight="normal" stroke="#F23645" stroke-width="0.3" textLength="35.1" lengthAdjust="spacingAndGlyphs">2.2916</text><text x="385.3" y="45.9" font-size="12" fill="#F23645" text-anchor="start" font-weight="normal" stroke="#F23645" stroke-width="0.3" textLength="90.5" lengthAdjust="spacingAndGlyphs">−0.0793 (−3.34%)</text><text x="2044" y="1091.9" font-size="12" fill="#131722" text-anchor="start" font-weight="normal" stroke="#131722" stroke-width="0.3" textLength="36.3" lengthAdjust="spacingAndGlyphs">0.2000</text><text x="2044" y="1056.9" font-size="12" fill="#131722" text-anchor="start" font-weight="normal" stroke="#131722" stroke-width="0.3" textLength="36.3" lengthAdjust="spacingAndGlyphs">0.3000</text><text x="2044" y="1020.9" font-size="12" fill="#131722" text-anchor="start" font-weight="normal" stroke="#131722" stroke-width="0.3" textLength="36.3" lengthAdjust="spacingAndGlyphs">0.4000</text><text x="2044" y="985.9" font-size="12" fill="#131722" text-anchor="start" font-weight="normal" stroke="#131722" stroke-width="0.3" textLength="36.3" lengthAdjust="spacingAndGlyphs">0.5000</text><text x="2044" y="950.9" font-size="12" fill="#131722" text-anchor="start" font-weight="normal" stroke="#131722" stroke-width="0.3" textLength="36.3" lengthAdjust="spacingAndGlyphs">0.6000</text><text x="2044" y="915.9" font-size="12" fill="#131722" text-anchor="start" font-weight="normal" stroke="#131722" stroke-width="0.3" textLength="36.3" lengthAdjust="spacingAndGlyphs">0.7000</text><text x="2044" y="880.9" font-size="12" fill="#131722" text-anchor="start" font-weight="normal" stroke="#131722" stroke-width="0.3" textLength="36.3" lengthAdjust="spacingAndGlyphs">0.8000</text><text x="2044" y="844.9" font-size="12" fill="#131722" text-anchor="start" font-weight="normal" stroke="#131722" stroke-width="0.3" textLength="36.3" lengthAdjust="spacingAndGlyphs">0.9000</text><text x="2044" y="809.9" font-size="12" fill="#131722" text-anchor="start" font-weight="normal" stroke="#131722" stroke-width="0.3" textLength="36.3" lengthAdjust="spacingAndGlyphs">1.0000</text><text x="2044" y="774.9" font-size="12" fill="#131722" text-anchor="start" font-weight="normal" stroke="#131722" stroke-width="0.3" textLength="36.3" lengthAdjust="spacingAndGlyphs">1.1000</text><text x="2044" y="739.9" font-size="12" fill="#131722" text-anchor="start" font-weight="normal" stroke="#131722" stroke-width="0.3" textLength="36.3" lengthAdjust="spacingAndGlyphs">1.2000</text><text x="2044" y="704.9" font-size="12" fill="#131722" text-anchor="start" font-weight="normal" stroke="#131722" stroke-width="0.3" textLength="36.3" lengthAdjust="spacingAndGlyphs">1.3000</text><text x="2044" y="668.9" font-size="12" fill="#131722" text-anchor="start" font-weight="normal" stroke="#131722" stroke-width="0.3" textLength="36.3" lengthAdjust="spacingAndGlyphs">1.4000</text><text x="2044" y="633.9" font-size="12" fill="#131722" text-anchor="start" font-weight="normal" stroke="#131722" stroke-width="0.3" textLength="36.3" lengthAdjust="spacingAndGlyphs">1.5000</text><text x="2044" y="598.9" font-size="12" fill="#131722" text-anchor="start" font-weight="normal" stroke="#131722" stroke-width="0.3" textLength="36.3" lengthAdjust="spacingAndGlyphs">1.6000</text><text x="2044" y="563.9" font-size="12" fill="#131722" text-anchor="start" font-weight="normal" stroke="#131722" stroke-width="0.3" textLength="36.3" lengthAdjust="spacingAndGlyphs">1.7000</text><text x="2044" y="528.9" font-size="12" fill="#131722" text-anchor="start" font-weight="normal" stroke="#131722" stroke-width="0.3" textLength="36.3" lengthAdjust="spacingAndGlyphs">1.8000</text><text x="2044" y="492.9" font-size="12" fill="#131722" text-anchor="start" font-weight="normal" stroke="#131722" stroke-width="0.3" textLength="36.3" lengthAdjust="spacingAndGlyphs">1.9000</text><text x="2044" y="457.9" font-size="12" fill="#131722" text-anchor="start" font-weight="normal" stroke="#131722" stroke-width="0.3" textLength="36.3" lengthAdjust="spacingAndGlyphs">2.0000</text><text x="2044" y="422.9" font-size="12" fill="#131722" text-anchor="start" font-weight="normal" stroke="#131722" stroke-width="0.3" textLength="36.3" lengthAdjust="spacingAndGlyphs">2.1000</text><text x="2044" y="387.9" font-size="12" fill="#131722" text-anchor="start" font-weight="normal" stroke="#131722" stroke-width="0.3" textLength="36.3" lengthAdjust="spacingAndGlyphs">2.2000</text><text x="2044" y="352.9" font-size="12" fill="#131722" text-anchor="start" font-weight="normal" stroke="#131722" stroke-width="0.3" textLength="36.3" lengthAdjust="spacingAndGlyphs">2.3000</text><text x="2044" y="316.9" font-size="12" fill="#131722" text-anchor="start" font-weight="normal" stroke="#131722" stroke-width="0.3" textLength="36.3" lengthAdjust="spacingAndGlyphs">2.4000</text><text x="2044" y="281.9" font-size="12" fill="#131722" text-anchor="start" font-weight="normal" stroke="#131722" stroke-width="0.3" textLength="36.3" lengthAdjust="spacingAndGlyphs">2.5000</text><text x="2044" y="246.9" font-size="12" fill="#131722" text-anchor="start" font-weight="normal" stroke="#131722" stroke-width="0.3" textLength="36.3" lengthAdjust="spacingAndGlyphs">2.6000</text><text x="2044" y="211.9" font-size="12" fill="#131722" text-anchor="start" font-weight="normal" stroke="#131722" stroke-width="0.3" textLength="36.3" lengthAdjust="spacingAndGlyphs">2.7000</text><text x="2044" y="176.9" font-size="12" fill="#131722" text-anchor="start" font-weight="normal" stroke="#131722" stroke-width="0.3" textLength="36.3" lengthAdjust="spacingAndGlyphs">2.8000</text><text x="2044" y="140.9" font-size="12" fill="#131722" text-anchor="start" font-weight="normal" stroke="#131722" stroke-width="0.3" textLength="36.3" lengthAdjust="spacingAndGlyphs">2.9000</text><text x="2044" y="105.9" font-size="12" fill="#131722" text-anchor="start" font-weight="normal" stroke="#131722" stroke-width="0.3" textLength="36.3" lengthAdjust="spacingAndGlyphs">3.0000</text><text x="2044" y="70.9" font-size="12" fill="#131722" text-anchor="start" font-weight="normal" stroke="#131722" stroke-width="0.3" textLength="36.3" lengthAdjust="spacingAndGlyphs">3.1000</text><text x="2044" y="35.9" font-size="12" fill="#131722" text-anchor="start" font-weight="normal" stroke="#131722" stroke-width="0.3" textLength="36.3" lengthAdjust="spacingAndGlyphs">3.2000</text><text x="2044" y="1165.9" font-size="12" fill="#131722" text-anchor="start" font-weight="normal" stroke="#131722" stroke-width="0.3" textLength="30.2" lengthAdjust="spacingAndGlyphs">40.00</text></g>
<path d="M2036.2 486.2H2082.6A2 2 0 0 1 2084.6 488.2V500.5A2 2 0 0 1 2082.6 502.5H2036.2Z" fill="#0A8A0A"/>
<path d="M2036.2 720.5H2082.6A2 2 0 0 1 2084.6 722.5V734.8A2 2 0 0 1 2082.6 736.8H2036.2Z" fill="#5B9CF6"/>
<path d="M2036.2 761H2082.6A2 2 0 0 1 2084.6 763V775.3A2 2 0 0 1 2082.6 777.3H2036.2Z" fill="#FF9800"/>
<path d="M2036.2 849.2H2082.6A2 2 0 0 1 2084.6 851.2V863.6A2 2 0 0 1 2082.6 865.6H2036.2Z" fill="#000"/>
<path d="M2036.2 1058.5H2093.7A2 2 0 0 1 2095.7 1060.5V1072.6A2 2 0 0 1 2093.7 1074.6H2036.2Z" fill="#EF5350"/>
<path d="M2036.2 1112H2077A2 2 0 0 1 2079 1114V1126.4A2 2 0 0 1 2077 1128.4H2036.2Z" fill="#FFEB3B"/>
<path d="M2036.2 1130.3H2077A2 2 0 0 1 2079 1132.3V1144.8A2 2 0 0 1 2077 1146.8H2036.2Z" fill="#7E57C2"/>
<path d="M1980 343.1H2035V359.9H1980A2 2 0 0 1 1978 357.9V345.1A2 2 0 0 1 1980 343.1Z" fill="#F23645"/>
<path d="M2036 343.1H2093.9A2 2 0 0 1 2095.9 345.1V371.8A2 2 0 0 1 2093.9 373.8H2036Z" fill="#F23645"/>
<path d="M10.05 1220.1H17.8V1229.8H13.95V1223.7H10.05Z M24.9 1220.1H29.7L25.75 1229.8H21.2Z" fill="#131722"/>
<circle cx="20.9" cy="1222.05" r="1.9" fill="#131722"/>
<g filter="url(#nf)" font-family="Liberation Sans, sans-serif"><text x="2044" y="498.8" font-size="12" fill="#fff" text-anchor="start" font-weight="bold" textLength="36.2" lengthAdjust="spacingAndGlyphs">1.8866</text><text x="2044" y="733.0" font-size="12" fill="#000" text-anchor="start" font-weight="normal" stroke="#000" stroke-width="0.3" textLength="36.2" lengthAdjust="spacingAndGlyphs">1.2205</text><text x="2044" y="773.5" font-size="12" fill="#000" text-anchor="start" font-weight="normal" stroke="#000" stroke-width="0.3" textLength="36.2" lengthAdjust="spacingAndGlyphs">1.1048</text><text x="2044" y="861.8" font-size="12" fill="#fff" text-anchor="start" font-weight="bold" textLength="36.2" lengthAdjust="spacingAndGlyphs">0.8554</text><text x="2044" y="1071.0" font-size="12" fill="#fff" text-anchor="start" font-weight="bold" textLength="46.5" lengthAdjust="spacingAndGlyphs">241.41 M</text><text x="2044" y="1124.6" font-size="12" fill="#000" text-anchor="start" font-weight="normal" stroke="#000" stroke-width="0.3" textLength="30.0" lengthAdjust="spacingAndGlyphs">78.41</text><text x="2044" y="1143.0" font-size="12" fill="#fff" text-anchor="start" font-weight="bold" textLength="30.3" lengthAdjust="spacingAndGlyphs">61.80</text><text x="1982.5" y="355.9" font-size="12" fill="#fff" text-anchor="start" font-weight="bold" textLength="48.3" lengthAdjust="spacingAndGlyphs">XRPUSDT</text><text x="2044" y="355.9" font-size="12" fill="#fff" text-anchor="start" font-weight="bold" textLength="36.0" lengthAdjust="spacingAndGlyphs">2.2916</text><text x="2044.3" y="369.8" font-size="12" fill="#fff" text-anchor="start" font-weight="bold" textLength="45.8" lengthAdjust="spacingAndGlyphs" fill-opacity="0.78">16:00:55</text><text x="41.6" y="1197.9" font-size="12" fill="#131722" text-anchor="start" font-weight="normal" stroke="#131722" stroke-width="0.3" textLength="19.7" lengthAdjust="spacingAndGlyphs">Aug</text><text x="170.2" y="1197.9" font-size="12" fill="#131722" text-anchor="start" font-weight="normal" stroke="#131722" stroke-width="0.3" textLength="12.6" lengthAdjust="spacingAndGlyphs">12</text><text x="261.2" y="1197.9" font-size="12" fill="#131722" text-anchor="start" font-weight="normal" stroke="#131722" stroke-width="0.3" textLength="12.6" lengthAdjust="spacingAndGlyphs">20</text><text x="394.0" y="1197.9" font-size="12" fill="#131722" text-anchor="start" font-weight="normal" stroke="#131722" stroke-width="0.3" textLength="19.0" lengthAdjust="spacingAndGlyphs">Sep</text><text x="490.4" y="1197.9" font-size="12" fill="#131722" text-anchor="start" font-weight="normal" stroke="#131722" stroke-width="0.3" textLength="6.3" lengthAdjust="spacingAndGlyphs">9</text><text x="646.2" y="1197.9" font-size="12" fill="#131722" text-anchor="start" font-weight="normal" stroke="#131722" stroke-width="0.3" textLength="12.6" lengthAdjust="spacingAndGlyphs">23</text><text x="734.4" y="1197.9" font-size="12" fill="#131722" text-anchor="start" font-weight="normal" stroke="#131722" stroke-width="0.3" textLength="18.3" lengthAdjust="spacingAndGlyphs">Oct</text><text x="884.2" y="1197.9" font-size="12" fill="#131722" text-anchor="start" font-weight="normal" stroke="#131722" stroke-width="0.3" textLength="12.6" lengthAdjust="spacingAndGlyphs">14</text><text x="975.2" y="1197.9" font-size="12" fill="#131722" text-anchor="start" font-weight="normal" stroke="#131722" stroke-width="0.3" textLength="12.6" lengthAdjust="spacingAndGlyphs">22</text><text x="1084.5" y="1197.9" font-size="12" fill="#131722" text-anchor="start" font-weight="normal" stroke="#131722" stroke-width="0.3" textLength="20.0" lengthAdjust="spacingAndGlyphs">Nov</text><text x="1201.2" y="1197.9" font-size="12" fill="#131722" text-anchor="start" font-weight="normal" stroke="#131722" stroke-width="0.3" textLength="12.6" lengthAdjust="spacingAndGlyphs">11</text><text x="1292.2" y="1197.9" font-size="12" fill="#131722" text-anchor="start" font-weight="normal" stroke="#131722" stroke-width="0.3" textLength="12.6" lengthAdjust="spacingAndGlyphs">19</text><text x="1424.8" y="1197.9" font-size="12" fill="#131722" text-anchor="start" font-weight="normal" stroke="#131722" stroke-width="0.3" textLength="19.4" lengthAdjust="spacingAndGlyphs">Dec</text><text x="1522.3" y="1197.9" font-size="12" fill="#131722" text-anchor="start" font-weight="normal" stroke="#131722" stroke-width="0.3" textLength="6.3" lengthAdjust="spacingAndGlyphs">9</text><text x="1677.2" y="1197.9" font-size="12" fill="#131722" text-anchor="start" font-weight="normal" stroke="#131722" stroke-width="0.3" textLength="12.6" lengthAdjust="spacingAndGlyphs">23</text><text x="1771.3" y="1197.9" font-size="12" fill="#131722" text-anchor="start" font-weight="bold" textLength="28.3" lengthAdjust="spacingAndGlyphs">2025</text><text x="1916.2" y="1197.9" font-size="12" fill="#131722" text-anchor="start" font-weight="normal" stroke="#131722" stroke-width="0.3" textLength="12.6" lengthAdjust="spacingAndGlyphs">13</text><text x="2006.2" y="1197.9" font-size="12" fill="#131722" text-anchor="start" font-weight="normal" stroke="#131722" stroke-width="0.3" textLength="12.6" lengthAdjust="spacingAndGlyphs">21</text><text x="33.2" y="1229.8" font-size="13" fill="#131722" text-anchor="start" font-weight="normal" stroke="#131722" stroke-width="0.3" textLength="70.2" lengthAdjust="spacingAndGlyphs">TradingView</text></g>
</svg>
</body></html>
